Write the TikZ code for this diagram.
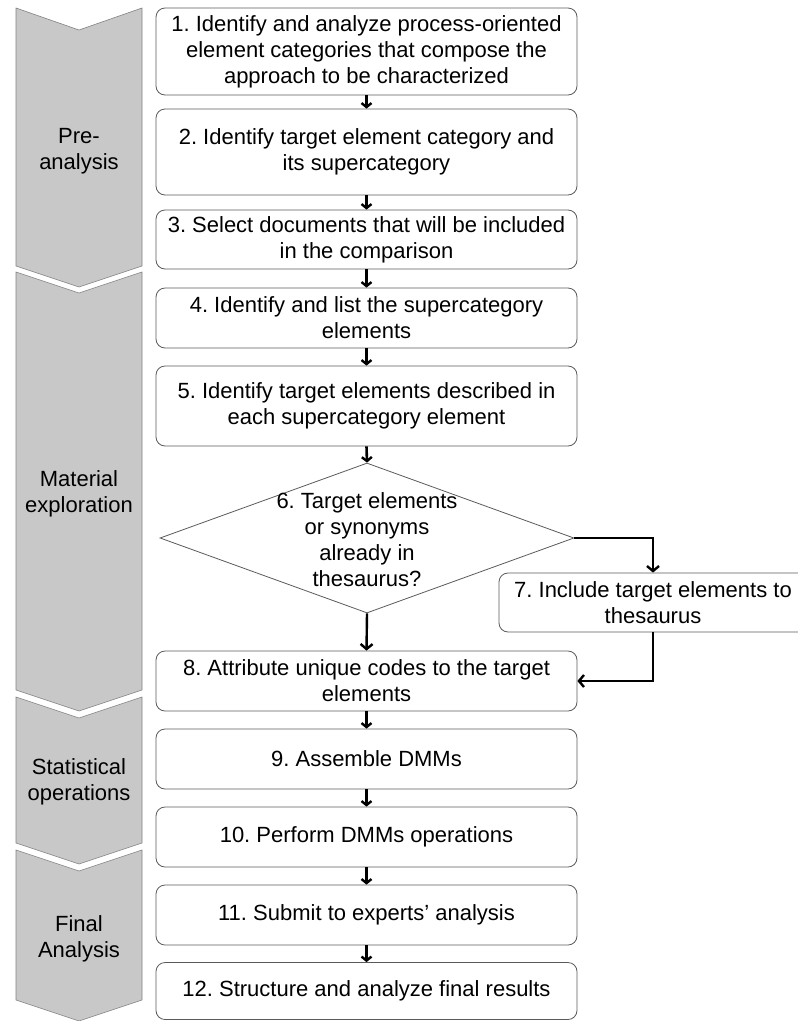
\documentclass[tikz,border=0pt]{standalone}
\usepackage{fontspec}
\setmainfont{Liberation Sans}
\usetikzlibrary{arrows.meta,shapes.geometric}
\definecolor{chevfill}{RGB}{200,200,200}
\definecolor{chevline}{RGB}{130,130,130}
\definecolor{boxline}{RGB}{90,90,90}
\frenchspacing
\tikzset{
  txt/.style={font=\fontsize{22}{26}\selectfont, align=center, inner sep=0pt},
  stepbox/.style={txt, draw=boxline, line width=0.8pt, rounded corners=9pt, minimum width=421pt},
  chev/.style={fill=chevfill, draw=chevline, line width=0.6pt},
  flow/.style={draw=black, line width=2.6pt, -{Straight Barb[length=4pt,width=10pt,line width=2.4pt]}},
  bflow/.style={draw=black, line width=2.4pt, -{Straight Barb[length=5pt,width=12pt,line width=2.4pt]}}
}
\begin{document}
\begin{tikzpicture}[x=1pt,y=-1pt]
\useasboundingbox (0,0) rectangle (798,1021);
% chevrons
\draw[chev] (16,8) -- (79,30) -- (142,8) -- (142,266) -- (79,287) -- (16,266) -- cycle;
\draw[chev] (16,272) -- (79,293) -- (142,272) -- (142,690) -- (79,711) -- (16,690) -- cycle;
\draw[chev] (16,697) -- (79,718) -- (142,697) -- (142,843) -- (79,864) -- (16,843) -- cycle;
\draw[chev] (16,850) -- (79,871) -- (142,850) -- (142,1000) -- (79,1021) -- (16,1000) -- cycle;
\node[txt] (p1) at (79,151) {Pre-\\analysis};
\node[txt] (p2) at (79,494) {Material\\exploration};
\node[txt] (p3) at (79,782) {Statistical\\operations};
\node[txt] (p4) at (79,939) {Final\\Analysis};
% boxes
\node[stepbox, minimum height=87pt] (b1) at (366.5,51.5) {1. Identify and analyze process-oriented\\element categories that compose the\\approach to be characterized};
\node[stepbox, minimum height=86pt] (b2) at (366.5,152) {2. Identify target element category and\\its supercategory};
\node[stepbox, minimum height=59pt] (b3) at (366.5,239.5) {3. Select documents that will be included\\in the comparison};
\node[stepbox, minimum height=60pt] (b4) at (366.5,318) {4. Identify and list the supercategory\\elements};
\node[stepbox, minimum height=80pt] (b5) at (366.5,406) {5. Identify target elements described in\\each supercategory element};
\node[draw=boxline, line width=0.8pt, diamond, inner sep=0pt, minimum width=414pt, minimum height=150pt] (d6) at (367,538) {};
\node[txt] (d6t) at (367,540) {6. Target elements\\or synonyms\\already in\\thesaurus?};
\node[stepbox, minimum width=308pt, minimum height=59pt] (b7) at (653,602.5) {7. Include target elements to\\thesaurus};
\node[stepbox, minimum height=60pt] (b8) at (366.5,681) {8. Attribute unique codes to the target\\elements};
\node[stepbox, minimum height=60pt] (b9) at (366.5,759) {9. Assemble DMMs};
\node[stepbox, minimum height=60pt] (b10) at (366.5,837) {10. Perform DMMs operations};
\node[stepbox, minimum height=60pt] (b11) at (366.5,915) {11. Submit to experts' analysis};
\node[stepbox, minimum height=57pt] (b12) at (366.5,991) {12. Structure and analyze final results};
% connectors
\draw[flow] (b1.south) -- (b2.north);
\draw[flow] (b2.south) -- (b3.north);
\draw[flow] (b3.south) -- (b4.north);
\draw[flow] (b4.south) -- (b5.north);
\draw[flow] (b5.south) -- (d6.north);
\draw[bflow] (d6.south) -- (b8.north);
\draw[bflow] (d6.east) -| (b7.north);
\draw[bflow] (b7.south) |- (b8.east);
\draw[flow] (b8.south) -- (b9.north);
\draw[flow] (b9.south) -- (b10.north);
\draw[flow] (b10.south) -- (b11.north);
\draw[flow] (b11.south) -- (b12.north);
\end{tikzpicture}
\end{document}
